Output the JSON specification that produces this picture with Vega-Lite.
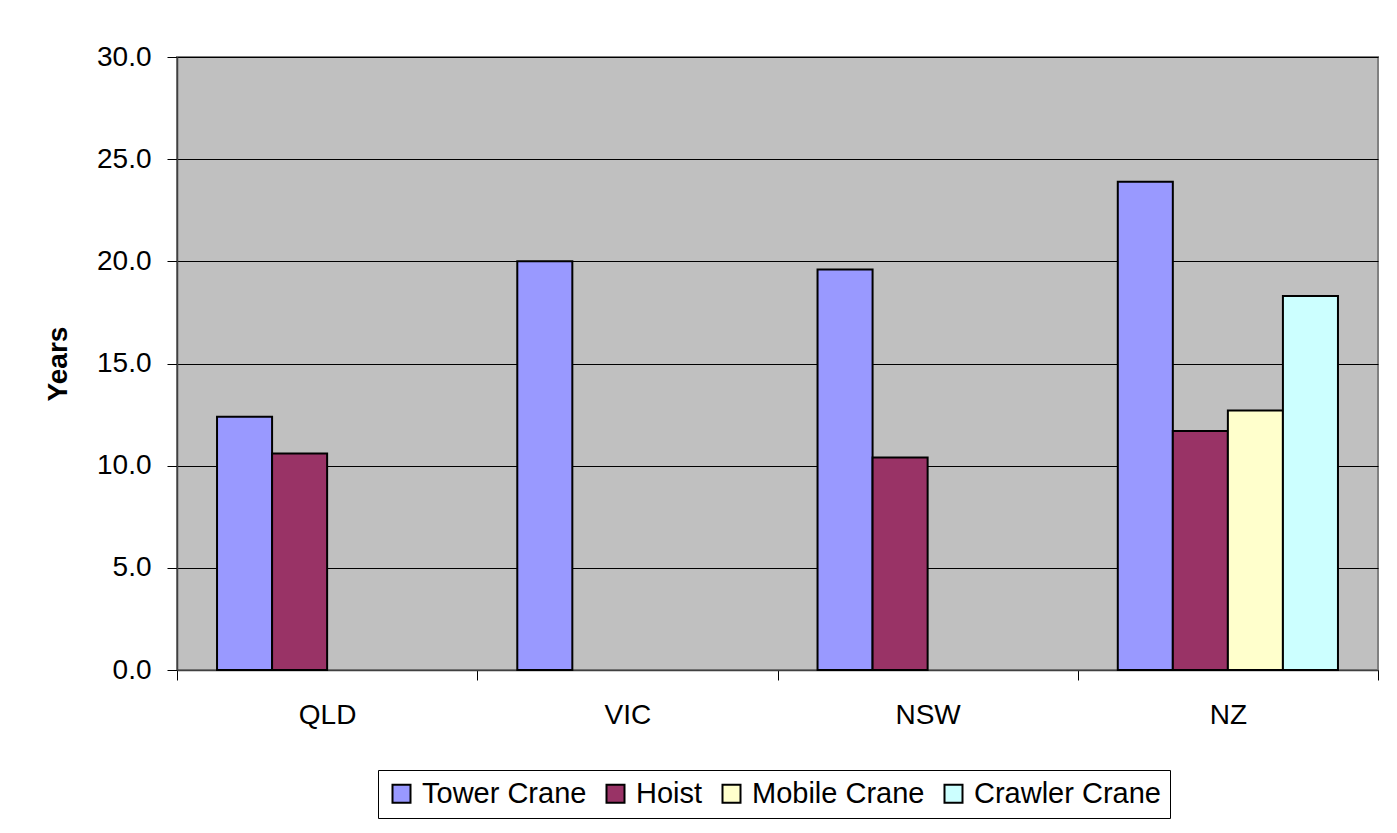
{
  "$schema": "https://vega.github.io/schema/vega-lite/v6.json",
  "autosize": "none",
  "padding": {"left": 177, "top": 57, "right": 19, "bottom": 163},
  "width": 1201,
  "height": 613,
  "background": "white",
  "data": {
    "values": [
      {"region": "QLD", "type": "Tower Crane", "years": 12.4},
      {"region": "QLD", "type": "Hoist", "years": 10.6},
      {"region": "VIC", "type": "Tower Crane", "years": 20.0},
      {"region": "NSW", "type": "Tower Crane", "years": 19.6},
      {"region": "NSW", "type": "Hoist", "years": 10.4},
      {"region": "NZ", "type": "Tower Crane", "years": 23.9},
      {"region": "NZ", "type": "Hoist", "years": 11.7},
      {"region": "NZ", "type": "Mobile Crane", "years": 12.7},
      {"region": "NZ", "type": "Crawler Crane", "years": 18.3}
    ]
  },
  "mark": {"type": "bar", "stroke": "black", "strokeWidth": 2, "opacity": 1},
  "encoding": {
    "x": {
      "field": "region",
      "type": "nominal",
      "sort": ["QLD", "VIC", "NSW", "NZ"],
      "scale": {"paddingInner": 0, "paddingOuter": 0},
      "axis": {
        "title": null,
        "labelAngle": 0,
        "tickBand": "extent",
        "tickSize": 10,
        "tickColor": "black",
        "labelPadding": 21,
        "domainColor": "#404040",
        "domainWidth": 1.5
      }
    },
    "xOffset": {
      "field": "type",
      "type": "nominal",
      "sort": ["Tower Crane", "Hoist", "Mobile Crane", "Crawler Crane"],
      "scale": {"paddingInner": 0, "paddingOuter": 0.7273}
    },
    "y": {
      "field": "years",
      "type": "quantitative",
      "scale": {"domain": [0, 30], "nice": false},
      "axis": {
        "title": "Years",
        "values": [0, 5, 10, 15, 20, 25, 30],
        "format": ".1f",
        "tickSize": 10,
        "tickColor": "black",
        "labelPadding": 16,
        "titlePadding": 24,
        "titleFontWeight": "bold",
        "titleFontSize": 28,
        "grid": true,
        "gridColor": "black",
        "gridWidth": 1,
        "domainColor": "#404040",
        "domainWidth": 1.5
      }
    },
    "color": {
      "field": "type",
      "type": "nominal",
      "sort": ["Tower Crane", "Hoist", "Mobile Crane", "Crawler Crane"],
      "scale": {
        "domain": ["Tower Crane", "Hoist", "Mobile Crane", "Crawler Crane"],
        "range": ["#9999FF", "#993366", "#FFFFCC", "#CCFFFF"]
      },
      "legend": {
        "title": null,
        "orient": "none",
        "legendX": 201,
        "legendY": 713,
        "direction": "horizontal",
        "columns": 4,
        "symbolType": "square",
        "symbolSize": 324,
        "symbolStrokeColor": "black",
        "symbolStrokeWidth": 2,
        "symbolOpacity": 1,
        "labelFontSize": 29,
        "labelFont": "Liberation Sans",
        "labelColor": "black",
        "labelLimit": 400,
        "labelOffset": 6,
        "columnPadding": 14,
        "padding": 9,
        "strokeColor": "black",
        "fillColor": "white"
      }
    }
  },
  "config": {
    "font": "Liberation Sans",
    "view": {"fill": "#C0C0C0", "stroke": "#808080", "strokeWidth": 2},
    "axis": {
      "labelFont": "Liberation Sans",
      "labelFontSize": 28,
      "labelColor": "black",
      "titleFont": "Liberation Sans",
      "titleColor": "black"
    }
  }
}
